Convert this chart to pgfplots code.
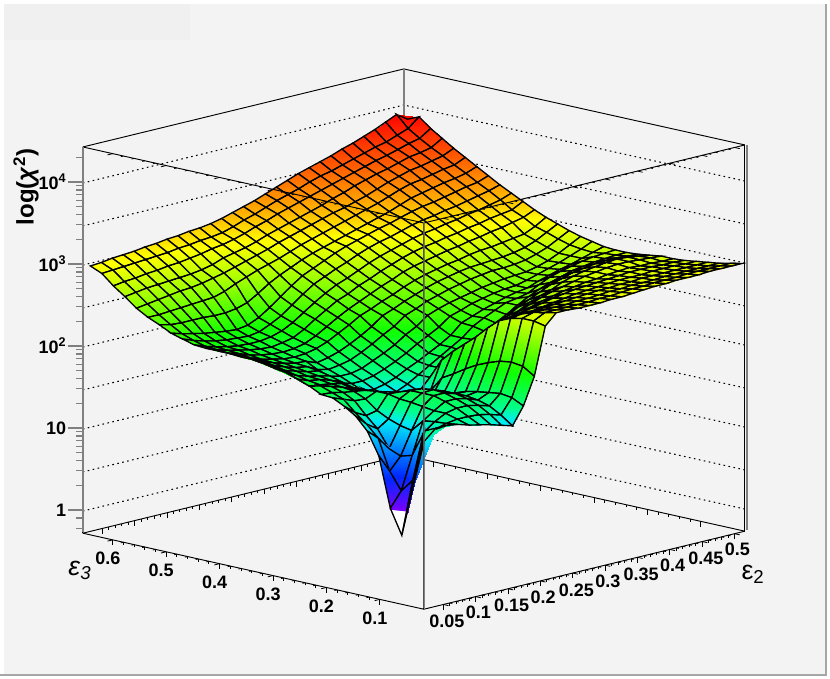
\documentclass[border=0pt]{standalone}
\usepackage{fontspec}
\setmainfont{Liberation Sans}
\usepackage{pgfplots}
\pgfplotsset{compat=1.18}
\definecolor{bgc}{HTML}{F3F3F3}
\begin{document}
\begin{tikzpicture}
\begin{scope}[x=0.75pt,y=-0.75pt]
\path[use as bounding box] (0,0) rectangle (830,678);
\fill[white] (0,0) rectangle (830,678);
\fill[bgc] (4,4) rectangle (826,675);
\fill[black!1!bgc] (4,4) rectangle (190,40);
\draw[black!35,line width=1.5pt] (826,4) -- (826,675) -- (0,675);
\end{scope}
\begin{axis}[
    at={(317.9pt,-440.3pt)}, anchor=origin,
    x={(485.4pt,118pt)}, y={(-400.6pt,89.3pt)}, z={(0pt,61.5pt)},
    xmin=0.02, xmax=0.516, ymin=0.0175, ymax=0.656, zmin=-0.27, zmax=4.44,
    clip=false,
    3d box=complete,
    axis line style={black,line width=0.7pt},
    xtick={0.05,0.1,0.15,0.2,0.25,0.3,0.35,0.4,0.45,0.5},
    xticklabels={0.05,0.1,0.15,0.2,0.25,0.3,0.35,0.4,0.45,0.5},
    ytick={0.1,0.2,0.3,0.4,0.5,0.6},
    yticklabels={0.1,0.2,0.3,0.4,0.5,0.6},
    ztick={0,0.477,1,1.477,2,2.477,3,3.477,4},
    zticklabels={1,,10,,10\textsuperscript{2},,10\textsuperscript{3},,10\textsuperscript{4}},
    xtick pos=left, ytick pos=left, ztick pos=left,
    minor x tick num=4, minor y tick num=4,
    zmajorgrids=true,
    major grid style={black,dash pattern=on 1.2pt off 2.6pt,line width=0.8pt},
    tick style={black,line width=0.6pt},
    z tick style={opacity=0},
    major tick length=4pt, minor tick length=2pt,
    tick align=outside,
    tick label style={font=\fontsize{13.5}{13.5}\selectfont\bfseries},
    xticklabel style={xshift=-9.5pt,yshift=-1.5pt},
    yticklabel style={xshift=7.7pt,yshift=-3.5pt},
    zticklabel style={xshift=-5pt},
    colormap={chi}{
      rgb255(50pt)=(255,255,255) rgb255(84pt)=(255,255,255)
      rgb255(85pt)=(120,0,255) rgb255(120pt)=(0,40,255)
      rgb255(150pt)=(0,140,255) rgb255(175pt)=(0,235,245)
      rgb255(188pt)=(0,255,140) rgb255(225pt)=(16,255,0)
      rgb255(270pt)=(160,255,0) rgb255(300pt)=(255,255,0)
      rgb255(325pt)=(255,170,0) rgb255(355pt)=(255,90,0)
      rgb255(395pt)=(255,0,0)
    },
    point meta min=0.5, point meta max=3.95,
]
\addplot3[black!50,line width=1.1pt] coordinates {(0.516,0.656,-0.27) (0.516,0.656,4.44)};
\addplot3[surf, shader=faceted interp, faceted color=black, line width=1pt,
    mesh/cols=30, z buffer=reverse xy seq]
  table[row sep=\\, header=false,
    x expr={0.0225+0.0169*mod(\coordindex,30)},
    y expr={0.0185+0.0216*floor((\coordindex+0.5)/30)},
    z index=0] {
1.90\\1.90\\1.90\\1.88\\1.84\\1.81\\1.78\\1.74\\1.70\\1.91\\2.24\\2.82\\2.95\\2.95\\2.94\\2.94\\2.94\\2.95\\2.95\\2.96\\2.97\\2.98\\2.98\\2.99\\2.99\\2.99\\3.00\\3.00\\3.00\\3.00\\
1.20\\1.71\\1.82\\1.86\\1.88\\1.88\\1.87\\1.84\\1.80\\1.98\\2.33\\2.85\\2.92\\2.92\\2.92\\2.92\\2.92\\2.93\\2.93\\2.94\\2.95\\2.95\\2.96\\2.96\\2.96\\2.97\\2.97\\2.97\\2.97\\2.97\\
0.56\\1.20\\1.75\\1.85\\1.92\\1.95\\1.95\\1.92\\1.88\\2.00\\2.35\\2.85\\2.89\\2.89\\2.89\\2.89\\2.90\\2.90\\2.91\\2.92\\2.92\\2.93\\2.93\\2.93\\2.94\\2.94\\2.94\\2.94\\2.94\\2.94\\
0.86\\1.04\\1.44\\1.83\\1.92\\2.00\\2.00\\1.97\\1.92\\1.98\\2.33\\2.82\\2.84\\2.84\\2.85\\2.86\\2.87\\2.88\\2.89\\2.90\\2.90\\2.91\\2.91\\2.92\\2.92\\2.92\\2.92\\2.92\\2.92\\2.92\\
1.47\\1.25\\1.40\\1.68\\1.94\\2.04\\2.04\\2.00\\1.94\\1.96\\2.28\\2.76\\2.77\\2.78\\2.78\\2.80\\2.82\\2.84\\2.86\\2.87\\2.88\\2.89\\2.90\\2.90\\2.90\\2.91\\2.91\\2.91\\2.90\\2.90\\
1.74\\1.62\\1.46\\1.71\\1.96\\2.04\\2.05\\2.00\\1.93\\1.93\\2.22\\2.64\\2.66\\2.70\\2.73\\2.75\\2.78\\2.81\\2.83\\2.85\\2.86\\2.87\\2.88\\2.89\\2.90\\2.90\\2.90\\2.89\\2.89\\2.88\\
1.89\\1.76\\1.67\\1.76\\1.97\\2.04\\2.03\\1.97\\1.88\\1.88\\2.14\\2.50\\2.53\\2.57\\2.60\\2.65\\2.70\\2.74\\2.77\\2.80\\2.82\\2.84\\2.85\\2.87\\2.88\\2.89\\2.88\\2.88\\2.87\\2.87\\
1.98\\1.87\\1.80\\1.83\\2.00\\1.99\\1.98\\1.90\\1.82\\1.82\\2.05\\2.38\\2.41\\2.46\\2.50\\2.56\\2.62\\2.67\\2.72\\2.76\\2.79\\2.82\\2.85\\2.87\\2.89\\2.90\\2.90\\2.89\\2.88\\2.87\\
2.05\\2.00\\1.95\\1.94\\2.00\\1.96\\1.90\\1.84\\1.76\\1.76\\1.97\\2.26\\2.29\\2.32\\2.35\\2.41\\2.48\\2.56\\2.63\\2.68\\2.72\\2.78\\2.82\\2.85\\2.87\\2.89\\2.90\\2.89\\2.87\\2.85\\
2.06\\2.05\\2.02\\2.00\\1.98\\1.93\\1.86\\1.80\\1.72\\1.70\\1.78\\2.12\\2.16\\2.20\\2.25\\2.32\\2.38\\2.46\\2.54\\2.60\\2.66\\2.72\\2.76\\2.80\\2.82\\2.84\\2.85\\2.85\\2.84\\2.83\\
2.13\\2.10\\2.06\\2.02\\1.96\\1.92\\1.84\\1.74\\1.70\\1.70\\1.74\\1.88\\1.96\\2.02\\2.10\\2.21\\2.28\\2.35\\2.42\\2.50\\2.57\\2.63\\2.68\\2.72\\2.76\\2.78\\2.80\\2.81\\2.82\\2.82\\
2.18\\2.07\\2.05\\2.03\\2.00\\1.92\\1.87\\1.74\\1.73\\1.74\\1.80\\1.88\\1.96\\2.04\\2.12\\2.20\\2.31\\2.38\\2.44\\2.50\\2.52\\2.55\\2.62\\2.68\\2.72\\2.75\\2.78\\2.80\\2.81\\2.82\\
2.23\\2.12\\2.07\\2.05\\2.01\\1.96\\1.84\\1.78\\1.77\\1.80\\1.85\\1.92\\1.98\\2.05\\2.12\\2.20\\2.32\\2.37\\2.42\\2.46\\2.50\\2.53\\2.55\\2.60\\2.64\\2.68\\2.71\\2.75\\2.79\\2.83\\
2.25\\2.17\\2.10\\2.06\\2.03\\2.00\\1.88\\1.84\\1.84\\1.87\\1.92\\1.98\\2.05\\2.13\\2.20\\2.27\\2.37\\2.41\\2.46\\2.49\\2.52\\2.54\\2.55\\2.58\\2.62\\2.66\\2.70\\2.75\\2.80\\2.86\\
2.28\\2.20\\2.13\\2.09\\2.05\\2.03\\1.93\\1.90\\1.90\\1.93\\1.99\\2.05\\2.12\\2.21\\2.28\\2.38\\2.43\\2.47\\2.50\\2.53\\2.56\\2.58\\2.60\\2.61\\2.62\\2.65\\2.69\\2.75\\2.82\\2.89\\
2.30\\2.22\\2.16\\2.11\\2.07\\2.05\\1.98\\1.95\\1.97\\2.00\\2.06\\2.13\\2.21\\2.28\\2.38\\2.43\\2.49\\2.53\\2.57\\2.60\\2.63\\2.65\\2.67\\2.67\\2.68\\2.70\\2.74\\2.79\\2.86\\2.93\\
2.30\\2.24\\2.18\\2.13\\2.09\\2.06\\2.05\\2.00\\2.03\\2.07\\2.13\\2.20\\2.28\\2.38\\2.43\\2.49\\2.54\\2.59\\2.63\\2.66\\2.69\\2.71\\2.72\\2.73\\2.74\\2.76\\2.79\\2.84\\2.91\\2.98\\
2.31\\2.25\\2.19\\2.14\\2.11\\2.08\\2.07\\2.08\\2.11\\2.16\\2.23\\2.30\\2.38\\2.43\\2.49\\2.54\\2.60\\2.65\\2.69\\2.72\\2.75\\2.77\\2.80\\2.82\\2.83\\2.85\\2.87\\2.89\\2.95\\3.03\\
2.31\\2.25\\2.21\\2.16\\2.13\\2.11\\2.10\\2.11\\2.14\\2.20\\2.28\\2.36\\2.43\\2.49\\2.55\\2.61\\2.66\\2.72\\2.76\\2.79\\2.82\\2.85\\2.87\\2.90\\2.92\\2.95\\2.97\\3.00\\3.03\\3.09\\
2.31\\2.26\\2.22\\2.19\\2.16\\2.14\\2.13\\2.15\\2.18\\2.25\\2.34\\2.42\\2.50\\2.55\\2.62\\2.67\\2.73\\2.78\\2.83\\2.87\\2.90\\2.92\\2.95\\2.97\\3.00\\3.02\\3.05\\3.07\\3.09\\3.16\\
2.32\\2.27\\2.23\\2.20\\2.18\\2.17\\2.17\\2.19\\2.23\\2.30\\2.39\\2.48\\2.56\\2.63\\2.68\\2.74\\2.80\\2.85\\2.89\\2.93\\2.97\\3.00\\3.02\\3.05\\3.07\\3.10\\3.12\\3.15\\3.18\\3.23\\
2.36\\2.31\\2.27\\2.24\\2.22\\2.21\\2.20\\2.22\\2.28\\2.35\\2.45\\2.55\\2.64\\2.70\\2.76\\2.81\\2.87\\2.92\\2.96\\2.99\\3.03\\3.07\\3.10\\3.12\\3.15\\3.17\\3.20\\3.23\\3.26\\3.30\\
2.40\\2.36\\2.33\\2.30\\2.28\\2.26\\2.25\\2.27\\2.33\\2.42\\2.52\\2.62\\2.71\\2.77\\2.83\\2.89\\2.94\\2.98\\3.02\\3.06\\3.09\\3.13\\3.17\\3.20\\3.22\\3.25\\3.28\\3.31\\3.33\\3.38\\
2.47\\2.44\\2.43\\2.43\\2.43\\2.42\\2.42\\2.44\\2.48\\2.56\\2.65\\2.72\\2.78\\2.84\\2.89\\2.93\\2.97\\3.01\\3.05\\3.09\\3.13\\3.17\\3.22\\3.27\\3.30\\3.33\\3.36\\3.38\\3.41\\3.46\\
2.53\\2.53\\2.54\\2.55\\2.56\\2.57\\2.58\\2.62\\2.68\\2.73\\2.78\\2.82\\2.86\\2.91\\2.96\\3.00\\3.04\\3.08\\3.12\\3.16\\3.20\\3.24\\3.29\\3.34\\3.38\\3.40\\3.43\\3.46\\3.48\\3.54\\
2.61\\2.63\\2.65\\2.67\\2.69\\2.70\\2.72\\2.75\\2.78\\2.82\\2.86\\2.90\\2.94\\2.99\\3.03\\3.07\\3.11\\3.15\\3.19\\3.22\\3.26\\3.30\\3.35\\3.40\\3.44\\3.48\\3.50\\3.53\\3.56\\3.62\\
2.72\\2.74\\2.76\\2.77\\2.78\\2.79\\2.80\\2.82\\2.85\\2.90\\2.93\\2.96\\3.00\\3.05\\3.09\\3.13\\3.17\\3.21\\3.25\\3.30\\3.34\\3.39\\3.43\\3.47\\3.50\\3.54\\3.58\\3.60\\3.63\\3.71\\
2.82\\2.84\\2.85\\2.87\\2.88\\2.90\\2.91\\2.93\\2.95\\2.98\\3.00\\3.03\\3.07\\3.12\\3.16\\3.21\\3.25\\3.29\\3.33\\3.37\\3.41\\3.45\\3.49\\3.53\\3.57\\3.60\\3.64\\3.68\\3.71\\3.80\\
2.94\\2.95\\2.96\\2.97\\2.98\\2.99\\3.00\\3.02\\3.03\\3.05\\3.06\\3.08\\3.12\\3.17\\3.21\\3.26\\3.31\\3.35\\3.39\\3.44\\3.48\\3.51\\3.55\\3.59\\3.63\\3.67\\3.70\\3.75\\3.80\\3.91\\
3.00\\3.01\\3.03\\3.04\\3.05\\3.07\\3.08\\3.10\\3.11\\3.13\\3.14\\3.16\\3.19\\3.23\\3.27\\3.31\\3.36\\3.41\\3.46\\3.51\\3.55\\3.59\\3.63\\3.68\\3.72\\3.77\\3.82\\3.88\\3.94\\3.85\\
};
\end{axis}
\begin{scope}[x=0.75pt,y=-0.75pt]
\draw[black!50,line width=1.1pt] (83,147) -- (83,532);
\draw[black!50,line width=1.1pt] (747,145) -- (747,530);
\draw[black!60,line width=1.1pt,opacity=0.8] (424,222) -- (424,608);
\foreach \v in {0,1,2,3,4} {
  \draw[black!50,line width=1.1pt] (83,{510-82*\v}) -- (68,{510-82*\v});
}
\foreach \v in {-0.222,-0.097,0.301,0.477,0.602,0.699,0.778,0.845,0.903,0.954,1.301,1.477,1.602,1.699,1.778,1.845,1.903,1.954,2.301,2.477,2.602,2.699,2.778,2.845,2.903,2.954,3.301,3.477,3.602,3.699,3.778,3.845,3.903,3.954,4.301} {
  \draw[black!50,line width=0.9pt] (83,{510-82*\v}) -- (76,{510-82*\v});
}
\node[font=\fontsize{20}{20}\selectfont] at (80,570) {\textit{ε}\textsubscript{\textit{3}}};
\node[font=\fontsize{20}{20}\selectfont] at (753,574) {ε\textsubscript{2}};
\node[font=\fontsize{18}{18}\selectfont\bfseries,rotate=90] at (26,187) {log(\textit{χ}\textsuperscript{2})};
\end{scope}
\end{tikzpicture}
\end{document}
